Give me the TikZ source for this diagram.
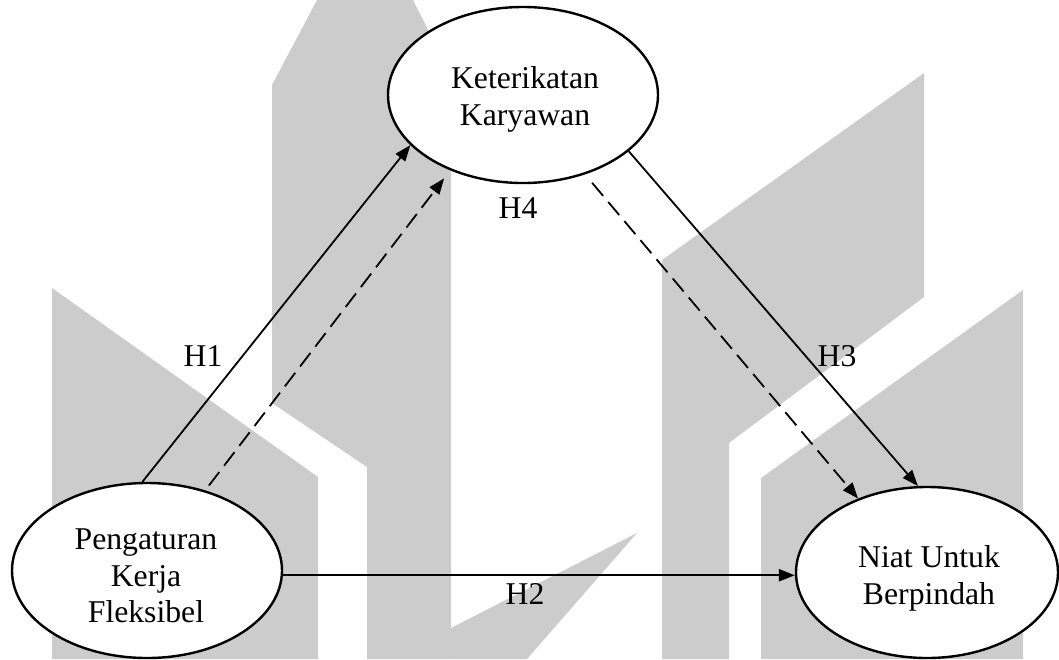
\documentclass[tikz,border=0pt]{standalone}
\usepackage{fontspec}
\setmainfont{Liberation Serif}
\usetikzlibrary{shapes.geometric,arrows.meta}
\definecolor{wm}{HTML}{CCCCCC}
\begin{document}
\begin{tikzpicture}[x=0.5pt,y=-0.5pt,
  var/.style={ellipse,draw,line width=1.2pt,fill=white,inner sep=0pt},
  txt/.style={font=\fontsize{15.85}{18.25}\selectfont,align=center,inner sep=0pt},
  hlab/.style={font=\fontsize{15.85}{18.25}\selectfont,inner sep=0pt},
  conn/.style={line width=0.9pt,-{Triangle[length=8pt,width=6pt]}},
  med/.style={conn,dash pattern=on 8.5pt off 4pt}]
\useasboundingbox (0,0) rectangle (1059,659);
% watermark
\fill[wm] (52,659) -- (52,288) -- (318,477) -- (318,659) -- cycle;
\fill[wm] (272,403) -- (272,85) -- (317,0) -- (413,0) -- (451,75) -- (451,659) -- (367,659) -- (367,467) -- cycle;
\fill[wm] (451,628) -- (637,533) -- (527,659) -- (451,659) -- cycle;
\fill[wm] (662,659) -- (662,260) -- (924,73) -- (924,297) -- (729,443) -- (729,659) -- cycle;
\fill[wm] (761,659) -- (761,478) -- (1023,290) -- (1023,659) -- cycle;
% variables
\node[var,minimum width=135pt,minimum height=88pt] (K) at (523,95) {};
\node[var,minimum width=135pt,minimum height=87.5pt] (P) at (147,570.5) {};
\node[var,minimum width=131pt,minimum height=85.5pt] (N) at (927,572.5) {};
\node[txt] (Kt) at (525,99.5) {Keterikatan\\Karyawan};
\node[txt] (Pt) at (146,576) {Pengaturan\\Kerja\\Fleksibel};
\node[txt] (Nt) at (929,578.5) {Niat Untuk\\Berpindah};
% connectors
\draw[conn] (P.93) -- (K.204);
\draw[med,shorten <=3pt,shorten >=5pt] (P.54) -- (K.226);
\draw[med,shorten <=5.5pt] (K.308) -- (N.133);
\draw[conn] (K.332) -- (N.96);
\draw[conn,line width=1.2pt] (P.-2.5) -- (P.-2.5 -| N.west);
% labels
\node[hlab] (h1) at (203,356) {H1};
\node[hlab] (h4) at (518,208) {H4};
\node[hlab] (h3) at (837,356) {H3};
\node[hlab] (h2) at (525,594) {H2};
\end{tikzpicture}
\end{document}
